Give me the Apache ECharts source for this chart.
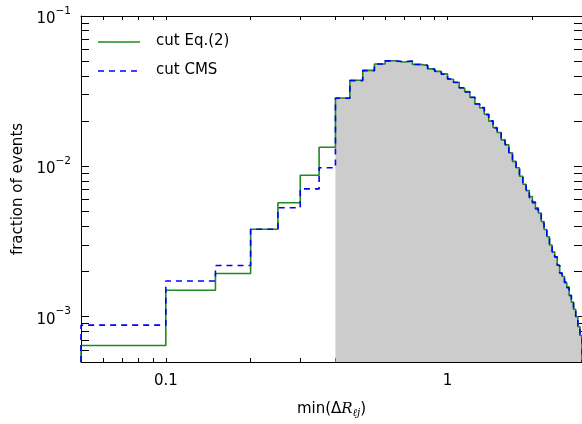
<!DOCTYPE html>
<html>
<head>
<meta charset="utf-8">
<script src="https://cdn.jsdelivr.net/npm/echarts@6/dist/echarts.min.js"></script>
<style>
  html, body { margin: 0; padding: 0; background: #fff; }
  #chart { width: 582px; height: 424px; }
</style>
</head>
<body>
<div id="chart"></div>
<script>
// Bin edges of min(ΔR_lj) histogram
const binEdges = [
  0.05, 0.10, 0.15, 0.20, 0.25, 0.30, 0.35, 0.40, 0.45, 0.50,
  0.55, 0.60, 0.65, 0.70, 0.75, 0.80, 0.85, 0.90, 0.95, 1.00,
  1.05, 1.10, 1.15, 1.20, 1.25, 1.30, 1.35, 1.40, 1.45, 1.50,
  1.55, 1.60, 1.65, 1.70, 1.75, 1.80, 1.85, 1.90, 1.95, 2.00,
  2.05, 2.10, 2.15, 2.20, 2.25, 2.30, 2.35, 2.40, 2.45, 2.50,
  2.55, 2.60, 2.65, 2.70, 2.75, 2.80, 2.85, 2.90, 2.95, 3.00
];

// Fraction of events per bin, cut Eq.(2)
const cutEq2 = [
  6.44e-4, 1.50e-3, 1.94e-3, 3.82e-3, 5.73e-3, 8.73e-3, 1.34e-2,
  2.85e-2, 3.74e-2, 4.35e-2, 4.79e-2, 5.04e-2, 4.95e-2, 5.02e-2, 4.77e-2,
  4.69e-2, 4.45e-2, 4.28e-2, 4.12e-2, 3.80e-2, 3.63e-2, 3.32e-2, 3.14e-2,
  2.87e-2, 2.61e-2, 2.45e-2, 2.22e-2, 2.00e-2, 1.81e-2, 1.68e-2, 1.50e-2,
  1.39e-2, 1.23e-2, 1.08e-2, 9.8e-3,
  8.6e-3, 7.6e-3, 6.9e-3, 6.3e-3, 5.7e-3, 5.3e-3, 4.9e-3, 4.3e-3,
  3.8e-3, 3.4e-3, 3.0e-3, 2.7e-3, 2.5e-3, 2.2e-3, 1.95e-3, 1.85e-3,
  1.68e-3, 1.58e-3, 1.38e-3, 1.25e-3, 1.12e-3, 1.0e-3, 8.6e-4, 7.5e-4
];

// Fraction of events per bin, cut CMS
const cutCMS = [
  8.79e-4, 1.73e-3, 2.19e-3, 3.82e-3, 5.31e-3, 7.08e-3, 9.80e-3,
  2.84e-2, 3.72e-2, 4.33e-2, 4.80e-2, 5.03e-2, 4.97e-2, 5.01e-2, 4.76e-2,
  4.70e-2, 4.43e-2, 4.29e-2, 4.10e-2, 3.82e-2, 3.61e-2, 3.33e-2, 3.12e-2,
  2.88e-2, 2.60e-2, 2.46e-2, 2.21e-2, 2.01e-2, 1.80e-2, 1.69e-2, 1.49e-2,
  1.40e-2, 1.22e-2, 1.09e-2, 9.7e-3,
  8.7e-3, 7.5e-3, 7.0e-3, 6.2e-3, 5.8e-3, 5.2e-3, 4.9e-3, 4.2e-3,
  3.8e-3, 3.4e-3, 3.0e-3, 2.7e-3, 2.5e-3, 2.2e-3, 1.95e-3, 1.83e-3,
  1.70e-3, 1.56e-3, 1.39e-3, 1.24e-3, 1.13e-3, 9.9e-4, 8.7e-4, 7.4e-4
];

// Signal region starts here (shaded)
const shadeFrom = 0.40;

// Axis ranges and tick labels
const xRange = [0.05, 3];
const yRange = [5e-4, 1e-1];
const xLabelValues = [0.1, 1];
const yLabelValues = [1e-3, 1e-2, 1e-1];
const xTickValues = [0.05, 0.06, 0.07, 0.08, 0.09, 0.1, 0.2, 0.3, 0.4, 0.5, 0.6, 0.7, 0.8, 0.9, 1, 2, 3];
const yTickValues = [
  5e-4, 6e-4, 7e-4, 8e-4, 9e-4,
  1e-3, 2e-3, 3e-3, 4e-3, 5e-3, 6e-3, 7e-3, 8e-3, 9e-3,
  1e-2, 2e-2, 3e-2, 4e-2, 5e-2, 6e-2, 7e-2, 8e-2, 9e-2, 1e-1
];

// Turn bin contents into the outline of a step histogram
function stepPath(edges, values, startIdx, floor) {
  const pts = [[edges[startIdx], floor]];
  for (let i = startIdx; i < values.length; i++) {
    pts.push([edges[i], values[i]]);
    pts.push([edges[i + 1], values[i]]);
  }
  pts.push([edges[values.length], floor]);
  return pts;
}

const floorY = yRange[0];
const shadeIdx = binEdges.indexOf(shadeFrom);

const FONT = 'DejaVu Sans';
const GREEN = '#1f8a1f';
const BLUE = '#0000ff';
const chart = echarts.init(document.getElementById('chart'), null, { renderer: 'canvas' });

const axisLineStyle = { color: '#000', width: 1 };

const option = {
  animation: false,
  backgroundColor: '#fff',
  // the frame runs slightly past the right edge of the canvas
  grid: { left: 81, width: 505, top: 16, bottom: 56, containLabel: false },
  xAxis: [
    {
      type: 'log', logBase: 10, min: xRange[0], max: xRange[1], position: 'bottom',
      axisLine: { show: true, lineStyle: axisLineStyle },
      axisTick: { show: true, inside: true, length: 4, customValues: xTickValues, lineStyle: { color: '#000', width: 1 } },
      axisLabel: {
        customValues: xLabelValues, margin: 12, color: '#000',
        fontFamily: FONT, fontSize: 15,
        formatter: v => (v >= 1 ? String(Math.round(v)) : String(v))
      },
      splitLine: { show: false },
      name: '{n|min(Δ}{i|R}{s|ℓj}{n|)}',
      nameLocation: 'middle', nameGap: 38,
      nameTextStyle: {
        rich: {
          n: { fontFamily: FONT, fontSize: 15, color: '#000' },
          i: { fontFamily: 'DejaVu Serif', fontStyle: 'italic', fontSize: 15, color: '#000' },
          s: { fontFamily: 'DejaVu Serif', fontStyle: 'italic', fontSize: 10.5, color: '#000', verticalAlign: 'bottom', padding: [8, 0, 0, 0] }
        }
      }
    },
    {
      type: 'log', logBase: 10, min: xRange[0], max: xRange[1], position: 'top',
      axisLine: { show: true, lineStyle: axisLineStyle },
      axisTick: { show: true, inside: true, length: 4, customValues: xTickValues, lineStyle: { color: '#000', width: 1 } },
      axisLabel: { show: false },
      splitLine: { show: false }
    }
  ],
  yAxis: [
    {
      type: 'log', logBase: 10, min: yRange[0], max: yRange[1], position: 'left',
      axisLine: { show: true, lineStyle: axisLineStyle },
      axisTick: { show: true, inside: true, length: 8, customValues: yTickValues, lineStyle: { color: '#000', width: 1 } },
      axisLabel: {
        customValues: yLabelValues, margin: 10, color: '#000',
        formatter: v => '{b|10}{s|' + '\u2212' + Math.round(-Math.log10(v)) + '}',
        rich: {
          b: { fontFamily: FONT, fontSize: 15, color: '#000', padding: [6, 0, 0, 0] },
          s: { fontFamily: FONT, fontSize: 10.5, color: '#000', verticalAlign: 'top', padding: [0, 0, 0, 0] }
        }
      },
      splitLine: { show: false },
      name: 'fraction of events',
      nameLocation: 'middle', nameGap: 52, nameRotate: 90,
      nameTextStyle: { fontFamily: FONT, fontSize: 15, color: '#000' }
    },
    {
      type: 'log', logBase: 10, min: yRange[0], max: yRange[1], position: 'right',
      axisLine: { show: true, lineStyle: axisLineStyle },
      axisTick: { show: true, inside: true, length: 8, customValues: yTickValues, lineStyle: { color: '#000', width: 1 } },
      axisLabel: { show: false },
      splitLine: { show: false }
    }
  ],
  series: [
    {
      name: 'shade', type: 'line', xAxisIndex: 0, yAxisIndex: 0,
      data: stepPath(binEdges, cutEq2, shadeIdx, floorY),
      symbol: 'none', silent: true, z: 1,
      lineStyle: { width: 0, opacity: 0 },
      areaStyle: { color: '#cccccc', opacity: 1, origin: 'start' }
    },
    {
      name: 'cut Eq.(2)', type: 'line', xAxisIndex: 0, yAxisIndex: 0,
      data: stepPath(binEdges, cutEq2, 0, floorY),
      symbol: 'none', z: 3,
      lineStyle: { color: GREEN, width: 1.6 }
    },
    {
      name: 'cut CMS', type: 'line', xAxisIndex: 0, yAxisIndex: 0,
      data: stepPath(binEdges, cutCMS, 0, floorY),
      symbol: 'none', z: 4,
      lineStyle: { color: BLUE, width: 1.6, type: [6, 5] }
    }
  ],
  graphic: [
    { type: 'line', shape: { x1: 98, y1: 42, x2: 140, y2: 42 }, style: { stroke: GREEN, lineWidth: 1.6 }, z: 10 },
    { type: 'text', left: 156, top: 34, style: { text: 'cut Eq.(2)', fontFamily: FONT, fontSize: 15, fill: '#000' }, z: 10 },
    { type: 'line', shape: { x1: 98, y1: 71, x2: 140, y2: 71 }, style: { stroke: BLUE, lineWidth: 1.6, lineDash: [6, 5] }, z: 10 },
    { type: 'text', left: 156, top: 63, style: { text: 'cut CMS', fontFamily: FONT, fontSize: 15, fill: '#000' }, z: 10 }
  ]
};

chart.setOption(option);
</script>
</body>
</html>
